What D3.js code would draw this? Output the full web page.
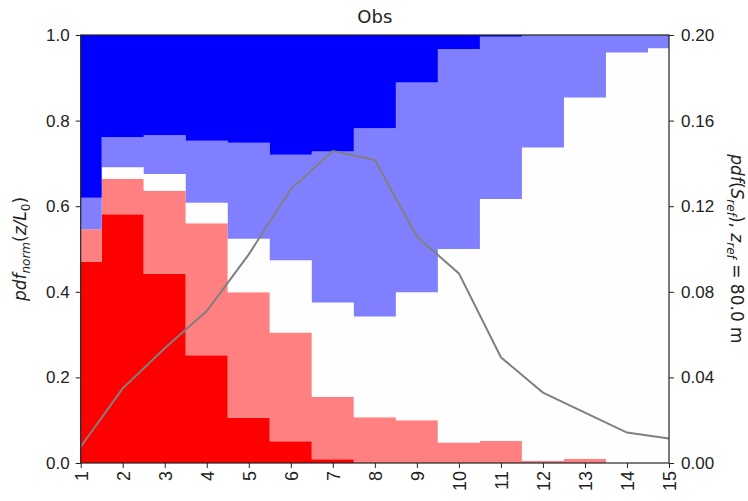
<!DOCTYPE html>
<html>
<head>
<meta charset="utf-8">
<script src="https://cdn.jsdelivr.net/npm/d3@7"></script>
<style>
  body { margin: 0; background: #fff; }
  svg { font-family: "DejaVu Sans", sans-serif; }
  .axis path, .axis line { stroke: #222; }
  .axis text { font-size: 17px; fill: #222; }
</style>
</head>
<body>
<svg class="chart" width="748" height="501"></svg>
<script>
// x positions (bins)
const xs = [1, 2, 3, 4, 5, 6, 7, 8, 9, 10, 11, 12, 13, 14, 15];

// fraction of each class per bin (bottom to top)
const redVals       = [0.470, 0.581, 0.442, 0.252, 0.106, 0.051, 0.009, 0, 0, 0, 0, 0, 0, 0, 0];
const lightRedVals  = [0.076, 0.083, 0.194, 0.308, 0.293, 0.254, 0.146, 0.107, 0.100, 0.048, 0.052, 0.005, 0.010, 0, 0];
const whiteVals     = [0, 0.027, 0.039, 0.048, 0.125, 0.169, 0.220, 0.235, 0.299, 0.452, 0.565, 0.732, 0.844, 0.959, 0.969];
const lightBlueVals = [0.074, 0.070, 0.091, 0.145, 0.224, 0.246, 0.353, 0.440, 0.490, 0.467, 0.379, 0.263, 0.146, 0.041, 0.031];
const blueVals      = [0.380, 0.239, 0.234, 0.247, 0.252, 0.280, 0.272, 0.218, 0.111, 0.033, 0.004, 0, 0, 0, 0];

// pdf of S_ref (right axis)
const pdfVals = [0.0076, 0.0349, 0.0536, 0.0710, 0.0975, 0.1280, 0.1458, 0.1416, 0.1058, 0.0886, 0.0494, 0.0329, 0.0235, 0.0142, 0.0114];

const leftTicks = [0, 0.2, 0.4, 0.6, 0.8, 1.0];
const rightTicks = [0, 0.04, 0.08, 0.12, 0.16, 0.20];

const keys = ['red', 'lightred', 'white', 'lightblue', 'blue'];
const colors = {
  red: '#ff0000',
  lightred: '#ff8080',
  white: '#fffefe',
  lightblue: '#8080ff',
  blue: '#0000ff'
};
const series = {
  red: redVals, lightred: lightRedVals, white: whiteVals,
  lightblue: lightBlueVals, blue: blueVals
};

const rows = xs.map((x, i) => {
  const r = { x: x };
  keys.forEach(k => r[k] = series[k][i]);
  return r;
});

const svg = d3.select('svg.chart');
const m = { left: 80.7, right: 79, top: 35, bottom: 38 };
const w = 748, h = 501;

const x = d3.scaleLinear().domain([1, 15]).range([m.left, w - m.right]);
const y = d3.scaleLinear().domain([0, 1]).range([h - m.bottom, m.top]);
const y2 = d3.scaleLinear().domain([0, 0.2]).range([h - m.bottom, m.top]);

const stacked = d3.stack().keys(keys)(rows);

// curveStep = step change halfway between points (like step='mid')
const area = d3.area()
  .curve(d3.curveStep)
  .x(d => x(d.data.x))
  .y0(d => y(d[0]))
  .y1(d => y(d[1]));

svg.append('g')
  .selectAll('path')
  .data(stacked)
  .join('path')
  .attr('fill', d => colors[d.key])
  .attr('d', area);

// gray pdf line
const line = d3.line()
  .x((d, i) => x(xs[i]))
  .y(d => y2(d));

svg.append('path')
  .datum(pdfVals)
  .attr('fill', 'none')
  .attr('stroke', '#808080')
  .attr('stroke-width', 2)
  .attr('d', line);

// frame
svg.append('rect')
  .attr('x', m.left).attr('y', m.top)
  .attr('width', w - m.right - m.left)
  .attr('height', h - m.bottom - m.top)
  .attr('fill', 'none')
  .attr('stroke', '#222')
  .attr('stroke-width', 1.2);

// axes
const xAxis = svg.append('g')
  .attr('class', 'axis')
  .attr('transform', `translate(0,${h - m.bottom})`)
  .call(d3.axisBottom(x).tickValues(xs).tickSize(5).tickSizeOuter(0).tickPadding(7));
xAxis.select('.domain').remove();
xAxis.selectAll('text')
  .style('font-size', '18px')
  .attr('transform', 'rotate(-90)')
  .attr('text-anchor', 'end')
  .attr('dy', '0.35em')
  .attr('x', -8)
  .attr('y', 0);

const yAxis = svg.append('g')
  .attr('class', 'axis')
  .attr('transform', `translate(${m.left},0)`)
  .call(d3.axisLeft(y).tickValues(leftTicks).tickFormat(d3.format('.1f')).tickSize(5).tickPadding(6));
yAxis.select('.domain').remove();

const y2Axis = svg.append('g')
  .attr('class', 'axis')
  .attr('transform', `translate(${w - m.right},0)`)
  .call(d3.axisRight(y2).tickValues(rightTicks).tickFormat(d3.format('.2f')).tickSize(5).tickPadding(7));
y2Axis.select('.domain').remove();

// title
svg.append('text')
  .attr('x', (m.left + w - m.right) / 2)
  .attr('y', 23)
  .attr('text-anchor', 'middle')
  .style('font-size', '18px')
  .attr('fill', '#222')
  .text('Obs');

// left label: pdf_norm(z/L_0)
const ly = svg.append('text')
  .attr('transform', `translate(26,${(m.top + h - m.bottom) / 2}) rotate(-90)`)
  .attr('text-anchor', 'middle')
  .style('font-size', '17px')
  .attr('fill', '#222');
ly.append('tspan').style('font-style', 'italic').text('pdf');
ly.append('tspan').style('font-style', 'italic').style('font-size', '12px').attr('dy', 4).text('norm');
ly.append('tspan').attr('dy', -4).text('(');
ly.append('tspan').style('font-style', 'italic').text('z/L');
ly.append('tspan').style('font-size', '12px').attr('dy', 4).text('0');
ly.append('tspan').attr('dy', -4).text(')');

// right label: pdf(S_ref), z_ref = 80.0 m
const ry = svg.append('text')
  .attr('transform', `translate(731,${(m.top + h - m.bottom) / 2}) rotate(90)`)
  .attr('text-anchor', 'middle')
  .style('font-size', '17px')
  .attr('fill', '#222');
ry.append('tspan').style('font-style', 'italic').text('pdf');
ry.append('tspan').text('(');
ry.append('tspan').style('font-style', 'italic').text('S');
ry.append('tspan').style('font-style', 'italic').style('font-size', '12px').attr('dy', 4).text('ref');
ry.append('tspan').attr('dy', -4).text('), ');
ry.append('tspan').style('font-style', 'italic').text('z');
ry.append('tspan').style('font-style', 'italic').style('font-size', '12px').attr('dy', 4).text('ref');
ry.append('tspan').attr('dy', -4).text(' = 80.0 m');
</script>
</body>
</html>
